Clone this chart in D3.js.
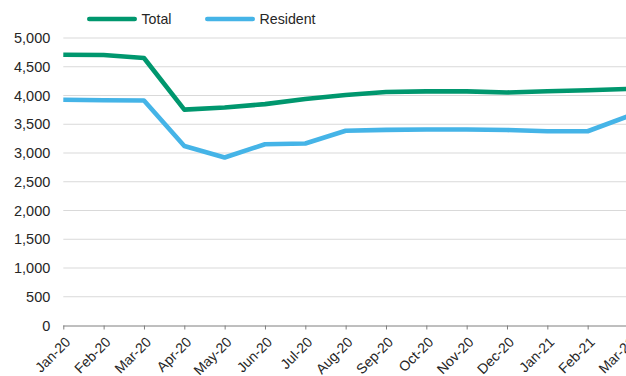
<!DOCTYPE html>
<html>
<head>
<meta charset="utf-8">
<script src="https://cdn.jsdelivr.net/npm/d3@7"></script>
<style>
  html, body { margin: 0; padding: 0; background: #fff; }
  svg { display: block; font-family: "Liberation Sans", Arial, sans-serif; }
</style>
</head>
<body>
<svg id="chart" width="626" height="376"></svg>
<script>
// Monthly counts, Jan 2020 – Mar 2021
const months = ["Jan-20","Feb-20","Mar-20","Apr-20","May-20","Jun-20","Jul-20","Aug-20",
                "Sep-20","Oct-20","Nov-20","Dec-20","Jan-21","Feb-21","Mar-21"];
const totalValues    = [4710, 4705, 4652, 3755, 3792, 3850, 3938, 4010, 4060, 4072, 4072, 4052, 4075, 4092, 4115];
const residentValues = [3925, 3918, 3912, 3122, 2922, 3152, 3165, 3388, 3402, 3408, 3408, 3400, 3378, 3378, 3640];
const yTicks = [0, 500, 1000, 1500, 2000, 2500, 3000, 3500, 4000, 4500, 5000];

const seriesList = [
  { name: "Total",    values: totalValues,    color: "#00976E" },
  { name: "Resident", values: residentValues, color: "#45B4E7" }
];

const svg = d3.select("#chart");
const W = 626, H = 376;
const margin = { left: 63.3, right: -2, top: 38, bottom: 50.5 };

const x = d3.scalePoint().domain(months).range([margin.left, W - margin.right]);
const y = d3.scaleLinear().domain([0, 5000]).range([H - margin.bottom, margin.top]);

// horizontal gridlines
svg.append("g")
  .selectAll("line")
  .data(yTicks.filter(d => d > 0))
  .join("line")
  .attr("x1", margin.left).attr("x2", W)
  .attr("y1", d => y(d)).attr("y2", d => y(d))
  .attr("stroke", "#d9d9d9").attr("stroke-width", 1);

// y axis labels
const fmt = d3.format(",");
const yAxis = svg.append("g")
  .attr("transform", `translate(${margin.left},0)`)
  .call(d3.axisLeft(y).tickValues(yTicks).tickFormat(fmt).tickSize(0).tickPadding(13));
yAxis.select(".domain").remove();
yAxis.selectAll("text")
  .attr("font-size", 14.5).attr("fill", "#262626")
  .attr("font-family", "Liberation Sans, Arial, sans-serif");

// x axis
const xAxis = svg.append("g")
  .attr("transform", `translate(0,${y(0)})`)
  .call(d3.axisBottom(x).tickSize(4).tickSizeOuter(0));
xAxis.select(".domain").attr("stroke", "#7f7f7f").attr("d", `M${margin.left},0.5H${W}`);
xAxis.selectAll(".tick line").attr("stroke", "#7f7f7f");
xAxis.selectAll("text")
  .attr("font-size", 14).attr("fill", "#262626")
  .attr("font-family", "Liberation Sans, Arial, sans-serif")
  .attr("text-anchor", "end")
  .attr("x", 0).attr("y", 0)
  .attr("dy", "0.35em")
  .attr("transform", "translate(4,14) rotate(-45)");

// series lines
const line = d3.line()
  .x((d, i) => x(months[i]))
  .y(d => y(d));

svg.append("defs").append("clipPath").attr("id", "plotclip")
  .append("rect").attr("x", 0).attr("y", 0).attr("width", W).attr("height", H);

svg.append("g").attr("clip-path", "url(#plotclip)")
  .selectAll("path")
  .data(seriesList)
  .join("path")
  .attr("d", s => line(s.values))
  .attr("fill", "none")
  .attr("stroke", s => s.color)
  .attr("stroke-width", 4.6)
  .attr("stroke-linejoin", "round");

// legend
const legend = svg.append("g").attr("transform", "translate(0,19)");
const legendPos = [87, 205];
seriesList.forEach((s, i) => {
  const g = legend.append("g").attr("transform", `translate(${legendPos[i]},0)`);
  g.append("line").attr("x1", 2.3).attr("x2", 47.7).attr("y1", 0).attr("y2", 0)
    .attr("stroke", s.color).attr("stroke-width", 4.6).attr("stroke-linecap", "round");
  g.append("text").attr("x", 54.5).attr("y", 0).attr("dy", "0.35em")
    .attr("font-size", 14.2).attr("fill", "#262626").text(s.name);
});
</script>
</body>
</html>
